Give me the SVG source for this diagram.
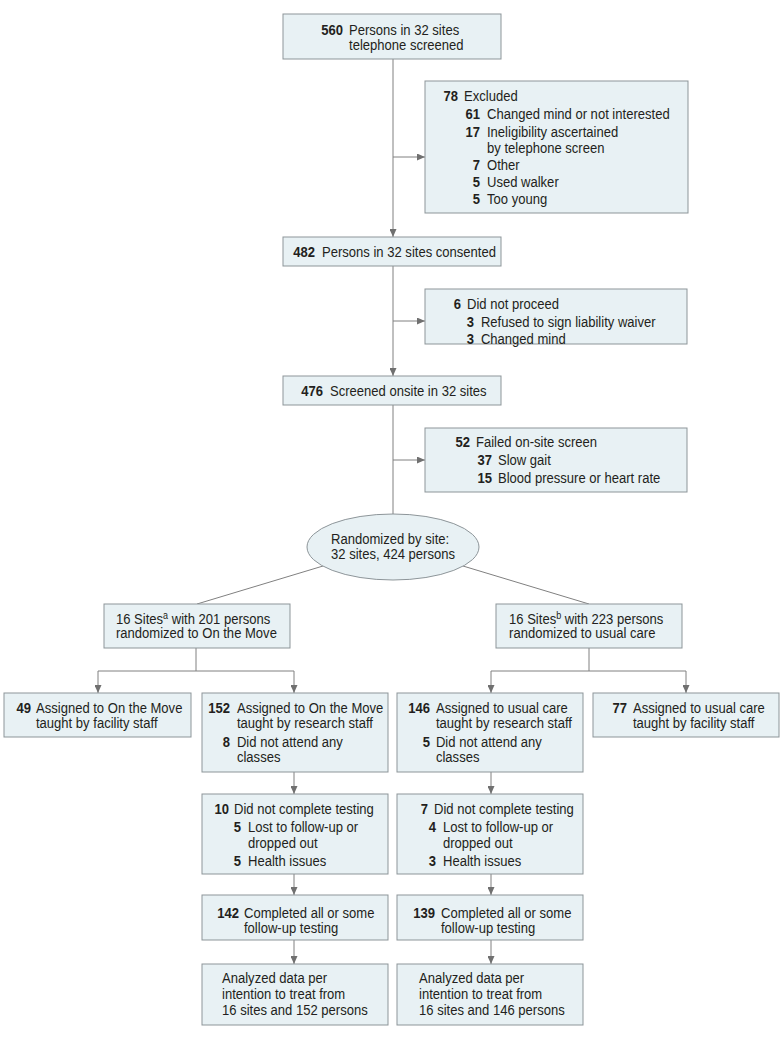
<svg xmlns="http://www.w3.org/2000/svg" width="783" height="1037" viewBox="0 0 783 1037">
<style>
.bx{fill:#e8f1f4;stroke:#8d9599;stroke-width:1}
.t{font-family:"Liberation Sans",Arial,sans-serif;font-size:14.5px;fill:#231f20}
.b{font-weight:bold}
.e{text-anchor:end}
.c{fill:none;stroke:#808080;stroke-width:1}
</style>
<defs>
<marker id="ah" markerUnits="userSpaceOnUse" markerWidth="8" markerHeight="7" refX="8" refY="3.5" orient="auto">
<path d="M0,0 L8,3.5 L0,7 z" fill="#707070"/>
</marker>
</defs>
<rect width="783" height="1037" fill="#ffffff"/>
<g id="connectors">
<path class="c" d="M393,59 V237" marker-end="url(#ah)"/>
<path class="c" d="M393,157 H425" marker-end="url(#ah)"/>
<path class="c" d="M393,266 V376" marker-end="url(#ah)"/>
<path class="c" d="M393,321 H425" marker-end="url(#ah)"/>
<path class="c" d="M393,405 V514"/>
<path class="c" d="M393,460 H425" marker-end="url(#ah)"/>
<path class="c" d="M323,566 L197,604"/>
<path class="c" d="M463,566 L589,604"/>
<path class="c" d="M196,648 V671 M98,671 H294"/>
<path class="c" d="M98,671 V693" marker-end="url(#ah)"/>
<path class="c" d="M294,671 V693" marker-end="url(#ah)"/>
<path class="c" d="M589,648 V671 M491,671 H686"/>
<path class="c" d="M491,671 V693" marker-end="url(#ah)"/>
<path class="c" d="M686,671 V693" marker-end="url(#ah)"/>
<path class="c" d="M294,772 V794" marker-end="url(#ah)"/>
<path class="c" d="M491,772 V794" marker-end="url(#ah)"/>
<path class="c" d="M294,874 V895" marker-end="url(#ah)"/>
<path class="c" d="M491,874 V895" marker-end="url(#ah)"/>
<path class="c" d="M294,940 V964" marker-end="url(#ah)"/>
<path class="c" d="M491,940 V964" marker-end="url(#ah)"/>
</g>
<g id="n560">
<rect class="bx" x="283" y="14" width="218" height="45"/>
<g transform="scale(0.9,1)">
<text class="t b e" x="381.1" y="35.5">560</text>
<text class="t" x="387.8" y="35.5">Persons in 32 sites</text>
<text class="t" x="387.8" y="50.5">telephone screened</text>
</g>
</g>
<g id="excluded">
<rect class="bx" x="425" y="81" width="263" height="132"/>
<g transform="scale(0.9,1)">
<text class="t b e" x="508.9" y="101.5">78</text><text class="t" x="515.6" y="101.5">Excluded</text>
<text class="t b e" x="533.3" y="119.5">61</text><text class="t" x="541.1" y="119.5">Changed mind or not interested</text>
<text class="t b e" x="533.3" y="137.5">17</text><text class="t" x="541.1" y="137.5">Ineligibility ascertained</text>
<text class="t" x="541.1" y="153.5">by telephone screen</text>
<text class="t b e" x="533.3" y="170.5">7</text><text class="t" x="541.1" y="170.5">Other</text>
<text class="t b e" x="533.3" y="187.5">5</text><text class="t" x="541.1" y="187.5">Used walker</text>
<text class="t b e" x="533.3" y="204.5">5</text><text class="t" x="541.1" y="204.5">Too young</text>
</g>
</g>
<g id="n482">
<rect class="bx" x="283" y="237" width="218" height="29"/>
<g transform="scale(0.9,1)">
<text class="t b e" x="350" y="257.5">482</text>
<text class="t" x="357.8" y="257.5">Persons in 32 sites consented</text>
</g>
</g>
<g id="notproceed">
<rect class="bx" x="425" y="289" width="262" height="55"/>
<g transform="scale(0.9,1)">
<text class="t b e" x="512.2" y="309.5">6</text><text class="t" x="518.9" y="309.5">Did not proceed</text>
<text class="t b e" x="526.7" y="327.5">3</text><text class="t" x="534.4" y="327.5">Refused to sign liability waiver</text>
<text class="t b e" x="526.7" y="344.5">3</text><text class="t" x="534.4" y="344.5">Changed mind</text>
</g>
</g>
<g id="n476">
<rect class="bx" x="283" y="376" width="218" height="29"/>
<g transform="scale(0.9,1)">
<text class="t b e" x="358.9" y="396.5">476</text>
<text class="t" x="366.7" y="396.5">Screened onsite in 32 sites</text>
</g>
</g>
<g id="failed">
<rect class="bx" x="425" y="428" width="262" height="64"/>
<g transform="scale(0.9,1)">
<text class="t b e" x="522.2" y="447.5">52</text><text class="t" x="528.9" y="447.5">Failed on-site screen</text>
<text class="t b e" x="546.7" y="465.5">37</text><text class="t" x="553.3" y="465.5">Slow gait</text>
<text class="t b e" x="546.7" y="483.5">15</text><text class="t" x="553.3" y="483.5">Blood pressure or heart rate</text>
</g>
</g>
<g id="randomized">
<ellipse class="bx" cx="393" cy="547" rx="86" ry="33"/>
<g transform="scale(0.9,1)">
<text class="t" x="367.8" y="544.5">Randomized by site:</text>
<text class="t" x="367.8" y="559.5">32 sites, 424 persons</text>
</g>
</g>
<g id="sitesA">
<rect class="bx" x="104" y="604" width="186" height="44"/>
<g transform="scale(0.9,1)">
<text class="t" x="128.9" y="624.5">16 Sites<tspan font-size="10" dy="-5">a</tspan><tspan dy="5"> with 201 persons</tspan></text>
<text class="t" x="128.9" y="638.5">randomized to On the Move</text>
</g>
</g>
<g id="sitesB">
<rect class="bx" x="496" y="604" width="186" height="44"/>
<g transform="scale(0.9,1)">
<text class="t" x="565.6" y="624.5">16 Sites<tspan font-size="10" dy="-5">b</tspan><tspan dy="5"> with 223 persons</tspan></text>
<text class="t" x="565.6" y="638.5">randomized to usual care</text>
</g>
</g>
<g id="n49">
<rect class="bx" x="4" y="693" width="187" height="44"/>
<g transform="scale(0.9,1)">
<text class="t b e" x="34.4" y="713.5">49</text><text class="t" x="40" y="713.5">Assigned to On the Move</text>
<text class="t" x="40" y="728.5">taught by facility staff</text>
</g>
</g>
<g id="n152">
<rect class="bx" x="202" y="693" width="186" height="79"/>
<g transform="scale(0.9,1)">
<text class="t b e" x="255.6" y="713.5">152</text><text class="t" x="263.3" y="713.5">Assigned to On the Move</text>
<text class="t" x="263.3" y="728.5">taught by research staff</text>
<text class="t b e" x="255.6" y="747.5">8</text><text class="t" x="263.3" y="747.5">Did not attend any</text>
<text class="t" x="263.3" y="762.5">classes</text>
</g>
</g>
<g id="n146">
<rect class="bx" x="397" y="693" width="186" height="79"/>
<g transform="scale(0.9,1)">
<text class="t b e" x="477.8" y="713.5">146</text><text class="t" x="484.4" y="713.5">Assigned to usual care</text>
<text class="t" x="484.4" y="728.5">taught by research staff</text>
<text class="t b e" x="477.8" y="747.5">5</text><text class="t" x="484.4" y="747.5">Did not attend any</text>
<text class="t" x="484.4" y="762.5">classes</text>
</g>
</g>
<g id="n77">
<rect class="bx" x="593" y="693" width="186" height="44"/>
<g transform="scale(0.9,1)">
<text class="t b e" x="696.7" y="713.5">77</text><text class="t" x="703.3" y="713.5">Assigned to usual care</text>
<text class="t" x="703.3" y="728.5">taught by facility staff</text>
</g>
</g>
<g id="n10">
<rect class="bx" x="202" y="794" width="186" height="80"/>
<g transform="scale(0.9,1)">
<text class="t b e" x="254.4" y="814.5">10</text><text class="t" x="260" y="814.5">Did not complete testing</text>
<text class="t b e" x="267.8" y="832.5">5</text><text class="t" x="275.6" y="832.5">Lost to follow-up or</text>
<text class="t" x="275.6" y="848.5">dropped out</text>
<text class="t b e" x="267.8" y="866.5">5</text><text class="t" x="275.6" y="866.5">Health issues</text>
</g>
</g>
<g id="n7">
<rect class="bx" x="397" y="794" width="186" height="80"/>
<g transform="scale(0.9,1)">
<text class="t b e" x="475.6" y="814.5">7</text><text class="t" x="482.2" y="814.5">Did not complete testing</text>
<text class="t b e" x="484.4" y="832.5">4</text><text class="t" x="492.2" y="832.5">Lost to follow-up or</text>
<text class="t" x="492.2" y="848.5">dropped out</text>
<text class="t b e" x="484.4" y="866.5">3</text><text class="t" x="492.2" y="866.5">Health issues</text>
</g>
</g>
<g id="n142">
<rect class="bx" x="202" y="895" width="186" height="45"/>
<g transform="scale(0.9,1)">
<text class="t b e" x="265.6" y="918.5">142</text><text class="t" x="271.1" y="918.5">Completed all or some</text>
<text class="t" x="271.1" y="933.5">follow-up testing</text>
</g>
</g>
<g id="n139">
<rect class="bx" x="397" y="895" width="186" height="45"/>
<g transform="scale(0.9,1)">
<text class="t b e" x="483.3" y="918.5">139</text><text class="t" x="490" y="918.5">Completed all or some</text>
<text class="t" x="490" y="933.5">follow-up testing</text>
</g>
</g>
<g id="analyzedA">
<rect class="bx" x="202" y="964" width="186" height="61"/>
<g transform="scale(0.9,1)">
<text class="t" x="246.7" y="983.5">Analyzed data per</text>
<text class="t" x="246.7" y="999.5">intention to treat from</text>
<text class="t" x="246.7" y="1015.5">16 sites and 152 persons</text>
</g>
</g>
<g id="analyzedB">
<rect class="bx" x="397" y="964" width="186" height="61"/>
<g transform="scale(0.9,1)">
<text class="t" x="465.6" y="983.5">Analyzed data per</text>
<text class="t" x="465.6" y="999.5">intention to treat from</text>
<text class="t" x="465.6" y="1015.5">16 sites and 146 persons</text>
</g>
</g>
</svg>
